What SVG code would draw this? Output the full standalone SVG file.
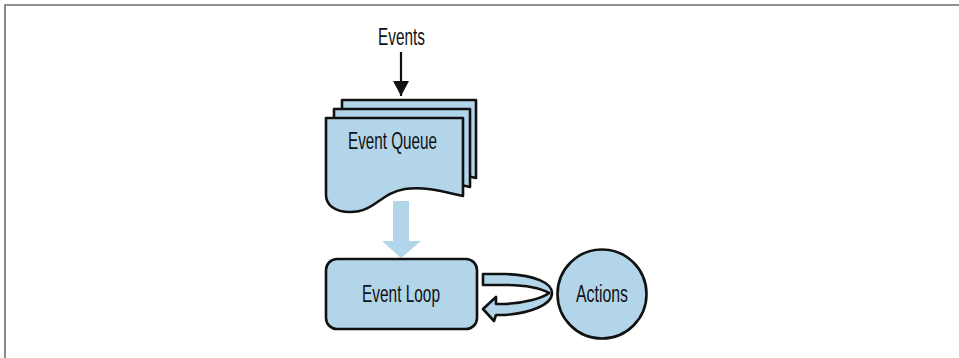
<svg xmlns="http://www.w3.org/2000/svg" width="959" height="358" viewBox="0 0 959 358">
  <defs>
    <style>
      .frame { fill: none; stroke: #6e6e6e; stroke-width: 1.6; }
      .shape { fill: #b3d5ea; stroke: #111; stroke-width: 2.6; stroke-linejoin: round; }
      .flow { fill: #b3d5ea; stroke: none; }
      .wire { fill: none; stroke: #111; stroke-width: 2.2; }
      .label { font-family: "Liberation Sans", Arial, sans-serif; font-size: 23px; fill: #111; text-anchor: middle; }
    </style>
    <marker id="head" markerWidth="16" markerHeight="16" refX="15" refY="8" orient="auto" markerUnits="userSpaceOnUse">
      <path d="M0,0 L15,8 L0,16 Z" fill="#111"/>
    </marker>
  </defs>

  <rect width="959" height="358" fill="#fff"/>
  <!-- page frame: top and left rules -->
  <path class="frame" d="M5,358 V5 H959"/>

  <!-- connectors -->
  <g id="connectors">
    <path class="wire" d="M401,52 V96" marker-end="url(#head)"/>
    <!-- block arrow from queue down to the loop -->
    <path class="flow" d="M393,201 H409 V241 H421 L401,258 L382,241 H393 Z"/>
    <!-- looping ribbon arrow between loop and actions -->
    <path class="shape" d="M483,274 L505,274 C535,275 552,283 552,293 C552,305 530,313 505,315 L496,315 L494,321 L483,309 L496,297 L496,304 L505,304 C525,303 543,298 549,293 C540,288 525,285 505,285 L483,285 Z"/>
  </g>

  <g id="events">
    <text class="label" x="401.5" y="45" textLength="47" lengthAdjust="spacingAndGlyphs">Events</text>
  </g>

  <g id="event-queue">
    <path class="shape" d="M342,100 H476 V178 C458,174 438,168 418,171 C393,175 388,194 363,194 C350,194 342,187 342,177 Z"/>
    <path class="shape" d="M334,109 H470 V187 C452,183 432,177 412,180 C387,184 382,203 357,203 C343,203 334,196 334,186 Z"/>
    <path class="shape" d="M326,118 H463 V196 C445,192 425,186 405,189 C380,193 375,212 350,212 C335,212 326,205 326,195 Z"/>
    <text class="label" x="392.5" y="149" textLength="89" lengthAdjust="spacingAndGlyphs">Event Queue</text>
  </g>

  <g id="event-loop">
    <rect class="shape" x="326" y="259" width="151" height="70" rx="11" ry="11"/>
    <text class="label" x="401" y="302" textLength="78" lengthAdjust="spacingAndGlyphs">Event Loop</text>
  </g>

  <g id="actions">
    <circle class="shape" cx="602" cy="294" r="44.5"/>
    <text class="label" x="602" y="302" textLength="52" lengthAdjust="spacingAndGlyphs">Actions</text>
  </g>
</svg>
